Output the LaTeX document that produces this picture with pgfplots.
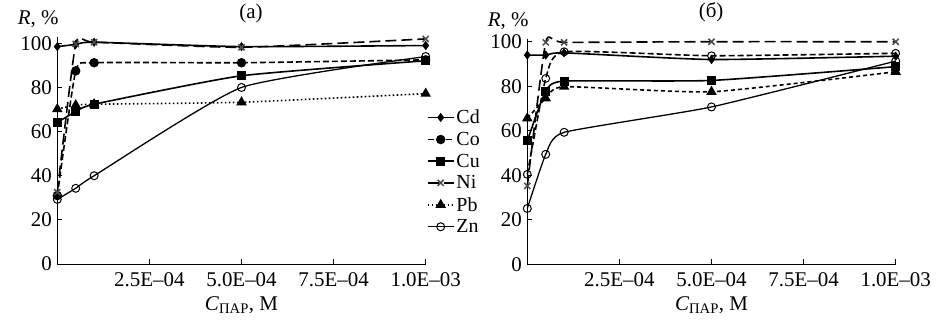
\documentclass[border=0pt]{standalone}
\usepackage{fontspec}
\setmainfont{Liberation Serif}
\usepackage{pgfplots}
\pgfplotsset{compat=1.18}
\begin{document}
\begin{tikzpicture}
\path[use as bounding box] (0bp,0bp) rectangle (938bp,325bp);
\pgfplotsset{
  common/.style={
    scale only axis, width=368.4bp,
    xmin=0, xmax=1e-3, ymin=0,
    axis lines*=left, axis line style={line width=1bp},
    tick align=inside, major tick length=5bp,
    tick style={line width=0.8bp, black},
    xtick={2.5e-4,5e-4,7.5e-4,1e-3},
    xticklabels={2.5E–04,5.0E–04,7.5E–04,1.0E–03},
    scaled x ticks=false,
    ytick={0,20,40,60,80,100},
    /pgf/number format/assume math mode=true,
    font=\fontsize{21}{24}\selectfont,
    ticklabel style={font=\fontsize{21}{24}\selectfont},
    xticklabel style={anchor=north, yshift=-5bp},
    yticklabel style={anchor=east, xshift=-2bp},
    clip=false,
    xlabel={\textit{C}\textsubscript{ПАР}, M},
    xlabel style={at={(0.5,0)}, anchor=center, yshift=-41bp},
    ylabel={\textit{R}, \%},
    ylabel style={rotate=-90, anchor=center},
    legend image code/.code={\draw[mark repeat=2,mark phase=2] plot coordinates {(0bp,0bp)(13bp,0bp)(26bp,0bp)};},
  },
  sm/.style={smooth, tension=0.3},
  sCd/.style={black, line width=1.6bp, sm, mark=diamond*, mark size=3.3bp, mark options={solid, fill=black}},
  sCo/.style={black, line width=1.6bp, sm, dash pattern=on 6bp off 3bp, mark=*, mark size=3.9bp, mark options={solid, fill=black}},
  sCu/.style={black, line width=1.6bp, sm, mark=square*, mark size=3.6bp, mark options={solid, fill=black}},
  sNi/.style={black, line width=1.6bp, sm, dash pattern=on 11bp off 5bp, mark=x, mark size=4.3bp, mark options={solid, draw=gray!60!black, line width=1.5bp}},
  sPb/.style={black, line width=1.6bp, sm, dash pattern=on 1.6bp off 2.4bp, mark=triangle*, mark size=4.5bp, mark options={solid, fill=black}},
  sZn/.style={black, line width=1.3bp, sm, mark=o, mark size=4bp, mark options={solid, fill=white, line width=1bp}},
}
\begin{axis}[common, at={(57.3bp,61bp)}, anchor=south west, height=227.3bp, ymax=103,
  title={(a)}, title style={at={(0.526,1)}, anchor=center, yshift=17bp},
  ylabel style={at={(-0.052,1.079)}},
  legend style={at={(1,0.405)}, anchor=west, draw=none, fill=none, inner sep=0pt,
    row sep=3bp, font=\fontsize{20}{23}\selectfont, xshift=1bp},
  legend cell align=left]
\addplot[sCd] coordinates {(0,98.5)(5e-5,99.5)(1e-4,100.5)(5e-4,98.5)(1e-3,99)};
\addlegendentry{Cd}
\addplot[sCo] coordinates {(0,31)(5e-5,87.5)(1e-4,91.2)(5e-4,91.2)(1e-3,92.5)};
\addlegendentry{Co}
\addplot[sCu] coordinates {(0,64.2)(5e-5,69)(1e-4,72.4)(5e-4,85.3)(1e-3,92.1)};
\addlegendentry{Cu}
\addplot[sNi] coordinates {(0,32.5)(5e-5,99.7)(1e-4,100.5)(5e-4,98.2)(1e-3,102)};
\addlegendentry{Ni}
\addplot[sPb] coordinates {(0,70.2)(5e-5,72)(1e-4,72.4)(5e-4,73.3)(1e-3,77.2)};
\addlegendentry{Pb}
\addplot[sZn] coordinates {(0,29.3)(5e-5,34.3)(1e-4,40)(5e-4,80)(1e-3,94)};
\addlegendentry{Zn}
\end{axis}
\begin{axis}[common, at={(527.3bp,60.7bp)}, anchor=south west, height=224.8bp, ymax=101,
  title={(б)}, title style={at={(0.499,1)}, anchor=center, yshift=21bp},
  ylabel style={at={(-0.052,1.081)}}]
\addplot[sCd] coordinates {(0,94)(5e-5,94)(1e-4,95)(5e-4,92)(1e-3,93.5)};
\addplot[sCo, mark=o, mark options={solid, fill=white, line width=1bp}] coordinates {(0,40.4)(5e-5,83.5)(1e-4,95.5)(5e-4,93.7)(1e-3,94.8)};
\addplot[sCu] coordinates {(0,55.5)(5e-5,77.8)(1e-4,82.3)(5e-4,82.6)(1e-3,88.8)};
\addplot[sNi] coordinates {(0,35.2)(5e-5,99.7)(1e-4,99.7)(5e-4,100)(1e-3,100)};
\addplot[sPb, dash pattern=on 4bp off 3bp] coordinates {(0,65.6)(5e-5,74.6)(1e-4,79.8)(5e-4,77.5)(1e-3,86.5)};
\addplot[sZn] coordinates {(0,25.1)(5e-5,49.4)(1e-4,59.3)(5e-4,70.7)(1e-3,91.3)};
\end{axis}
\end{tikzpicture}
\end{document}
